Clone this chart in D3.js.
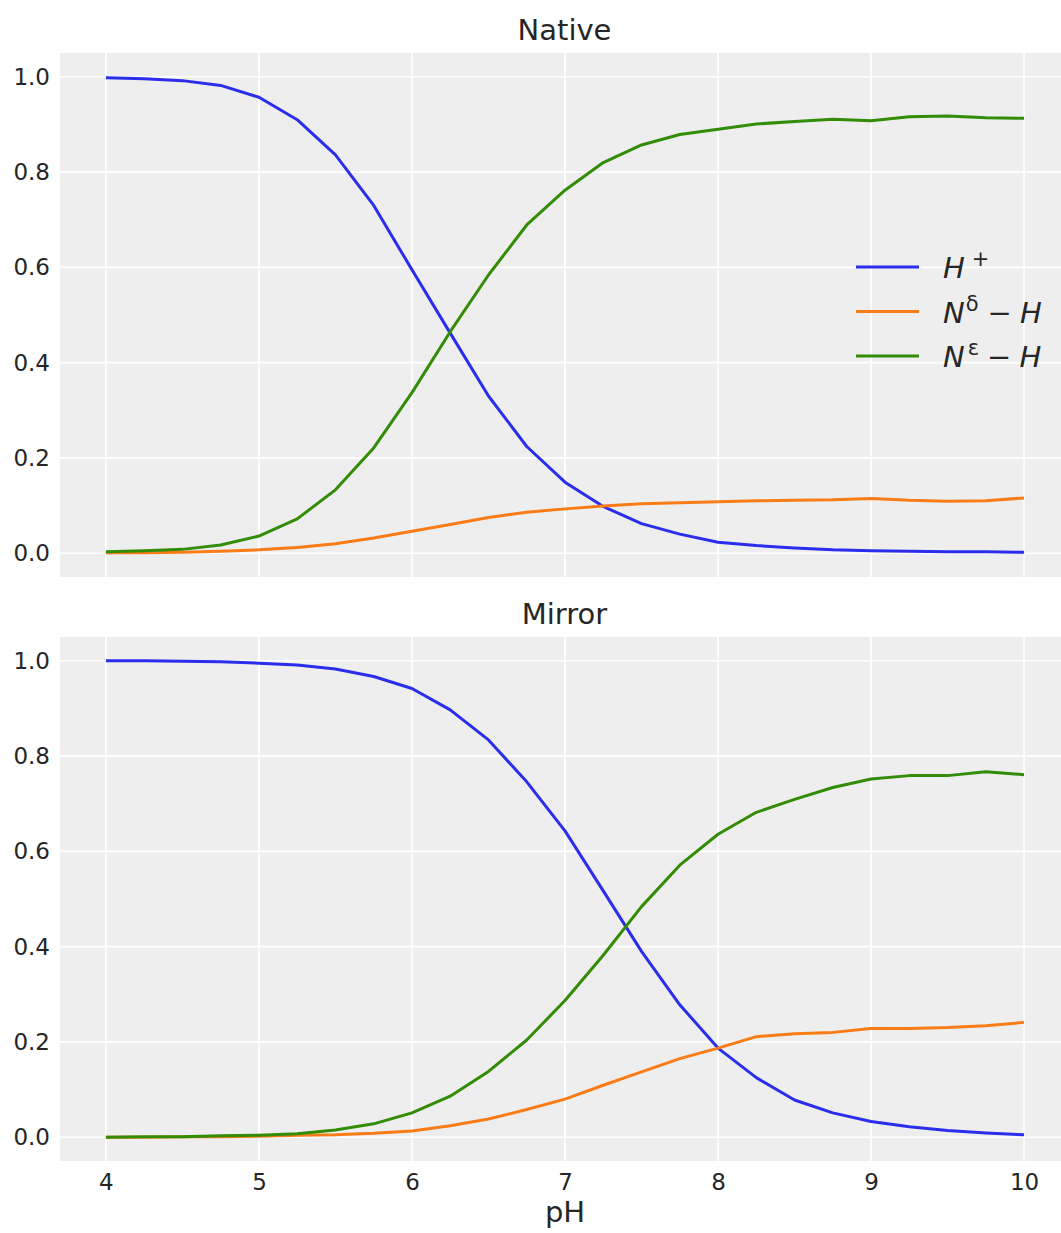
<!DOCTYPE html>
<html>
<head>
<meta charset="utf-8">
<script src="https://cdn.jsdelivr.net/npm/d3@7"></script>
<style>
  body { margin: 0; background: #fff; }
  text { font-family: "DejaVu Sans", sans-serif; fill: #262626; }
</style>
</head>
<body>
<div class="chart"></div>
<script>
// pH grid shared by both panels
const pH = [4, 4.25, 4.5, 4.75, 5, 5.25, 5.5, 5.75, 6, 6.25, 6.5, 6.75, 7,
            7.25, 7.5, 7.75, 8, 8.25, 8.5, 8.75, 9, 9.25, 9.5, 9.75, 10];

// Native
const nativeHplus = [0.998, 0.996, 0.992, 0.982, 0.957, 0.910, 0.836, 0.730, 0.595, 0.462, 0.330, 0.224, 0.149,
                     0.098, 0.062, 0.040, 0.023, 0.016, 0.011, 0.007, 0.005, 0.004, 0.003, 0.003, 0.002];
const nativeNd    = [0.001, 0.001, 0.002, 0.004, 0.007, 0.012, 0.020, 0.032, 0.046, 0.060, 0.075, 0.086, 0.093,
                     0.099, 0.104, 0.106, 0.108, 0.110, 0.111, 0.112, 0.115, 0.111, 0.109, 0.110, 0.116];
const nativeNe    = [0.003, 0.005, 0.008, 0.017, 0.036, 0.072, 0.133, 0.221, 0.337, 0.465, 0.584, 0.689, 0.762,
                     0.820, 0.857, 0.879, 0.890, 0.901, 0.906, 0.911, 0.908, 0.916, 0.918, 0.914, 0.913];

// Mirror
const mirrorHplus = [1.000, 1.000, 0.999, 0.998, 0.995, 0.991, 0.983, 0.967, 0.942, 0.897, 0.834, 0.746, 0.643,
                     0.517, 0.390, 0.278, 0.187, 0.125, 0.078, 0.051, 0.033, 0.022, 0.014, 0.009, 0.005];
const mirrorNd    = [0.000, 0.000, 0.001, 0.001, 0.002, 0.004, 0.005, 0.008, 0.013, 0.024, 0.038, 0.058, 0.080,
                     0.109, 0.137, 0.165, 0.187, 0.211, 0.217, 0.220, 0.228, 0.228, 0.230, 0.234, 0.241];
const mirrorNe    = [0.000, 0.001, 0.001, 0.003, 0.004, 0.007, 0.015, 0.028, 0.051, 0.086, 0.138, 0.204, 0.287,
                     0.382, 0.484, 0.571, 0.636, 0.682, 0.709, 0.734, 0.752, 0.759, 0.759, 0.767, 0.761];

const xTicks = [4, 5, 6, 7, 8, 9, 10];
const yTicks = [0, 0.2, 0.4, 0.6, 0.8, 1.0];
const titles = ["Native", "Mirror"];
const colors = ["#2a2eec", "#fa7c17", "#328c06"];

const W = 1061, H = 1233;
const svg = d3.select('.chart')
  .append('svg')
    .attr('width', W)
    .attr('height', H);

// plot area
const left = 60, right = 1070;
const panels = [
  { title: titles[0], top: 53, bottom: 577, series: [nativeHplus, nativeNd, nativeNe] },
  { title: titles[1], top: 637, bottom: 1161, series: [mirrorHplus, mirrorNd, mirrorNe] }
];

const x = d3.scaleLinear().domain([3.7, 10.3]).range([left, right]);

panels.forEach((p, pi) => {
  const y = d3.scaleLinear().domain([-0.05, 1.05]).range([p.bottom, p.top]);
  const g = svg.append('g');

  g.append('rect')
    .attr('x', left).attr('y', p.top)
    .attr('width', right - left).attr('height', p.bottom - p.top)
    .attr('fill', '#eeeeee');

  // gridlines
  g.selectAll('.vgrid').data(xTicks).enter()
    .append('line')
      .attr('x1', d => x(d)).attr('x2', d => x(d))
      .attr('y1', p.top).attr('y2', p.bottom)
      .attr('stroke', '#fff').attr('stroke-width', 1.6);
  g.selectAll('.hgrid').data(yTicks).enter()
    .append('line')
      .attr('x1', left).attr('x2', right)
      .attr('y1', d => y(d)).attr('y2', d => y(d))
      .attr('stroke', '#fff').attr('stroke-width', 1.6);

  // y axis
  const yAxis = d3.axisLeft(y).tickValues(yTicks).tickFormat(d3.format('.1f')).tickSize(0).tickPadding(10);
  const yg = g.append('g').attr('transform', `translate(${left},0)`).call(yAxis);
  yg.select('.domain').remove();
  yg.selectAll('text').attr('font-size', 23).attr('fill', '#262626').attr('font-family', 'DejaVu Sans');

  // x axis only on the bottom panel
  if (pi === 1) {
    const xAxis = d3.axisBottom(x).tickValues(xTicks).tickFormat(d3.format('d')).tickSize(0).tickPadding(13);
    const xg = g.append('g').attr('transform', `translate(0,${p.bottom})`).call(xAxis);
    xg.select('.domain').remove();
    xg.selectAll('text').attr('font-size', 23).attr('fill', '#262626').attr('font-family', 'DejaVu Sans');
  }

  // lines
  const line = d3.line().x((d, i) => x(pH[i])).y(d => y(d));
  p.series.forEach((s, si) => {
    g.append('path')
      .datum(s)
      .attr('fill', 'none')
      .attr('stroke', colors[si])
      .attr('stroke-width', 3)
      .attr('stroke-linejoin', 'round')
      .attr('d', line);
  });

  // title
  g.append('text')
    .attr('x', (left + 1061) / 2 + 4)
    .attr('y', p.top - 13)
    .attr('text-anchor', 'middle')
    .attr('font-size', 29)
    .text(p.title);
});

// x label
svg.append('text')
  .attr('x', 565).attr('y', 1222)
  .attr('text-anchor', 'middle')
  .attr('font-size', 29)
  .text('pH');

// legend (top panel)
const legendItems = [
  [{ t: 'H', it: true }, { t: '+', sup: true, dx: 7 }],
  [{ t: 'N', it: true }, { t: 'δ', sup: true, dx: 1 }, { t: '−', dx: 9 }, { t: 'H', it: true, dx: 8 }],
  [{ t: 'N', it: true }, { t: 'ε', sup: true, dx: 3 }, { t: '−', dx: 8 }, { t: 'H', it: true, dx: 8 }]
];
const lg = svg.append('g').attr('transform', 'translate(856,267)');
legendItems.forEach((parts, i) => {
  const row = lg.append('g').attr('transform', `translate(0,${i * 44.5})`);
  row.append('line')
    .attr('x1', 0).attr('x2', 63)
    .attr('y1', 0).attr('y2', 0)
    .attr('stroke', colors[i]).attr('stroke-width', 3);
  const t = row.append('text')
    .attr('x', 87).attr('y', 11)
    .attr('font-size', 29);
  let raised = false;
  parts.forEach(pt => {
    const sp = t.append('tspan')
      .attr('font-style', pt.it ? 'italic' : 'normal')
      .attr('dx', pt.dx || 0)
      .text(pt.t);
    if (pt.sup) {
      sp.attr('font-size', 21).attr('dy', -12);
      raised = true;
    } else if (raised) {
      sp.attr('dy', 12);
      raised = false;
    }
  });
});
</script>
</body>
</html>
